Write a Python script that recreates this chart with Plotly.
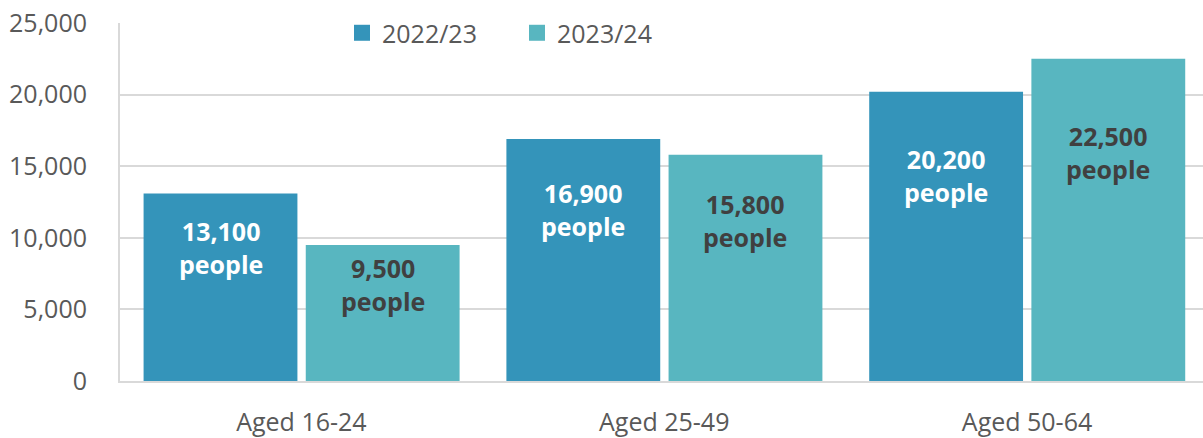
import plotly.graph_objects as go

categories = ["Aged 16-24", "Aged 25-49", "Aged 50-64"]
series_names = ["2022/23", "2023/24"]
values_2223 = [13100, 16900, 20200]
values_2324 = [9500, 15800, 22500]
y_ticks = [0, 5000, 10000, 15000, 20000, 25000]
y_tick_labels = ["0", "5,000", "10,000", "15,000", "20,000", "25,000"]

colors = ["#3494BA", "#58B6C0"]
label_colors = ["#FFFFFF", "#404040"]
BAR_W = 0.424
offsets = [-0.435, 0.012]
LABEL_FRAC = 0.71
FONT = "Open Sans"
GREY = "#595959"
GRID = "#D9D9D9"

fig = go.Figure()
series = [values_2223, values_2324]
idx = list(range(len(categories)))
for s, vals in enumerate(series):
    fig.add_trace(go.Bar(
        x=idx, y=vals, width=BAR_W, offset=offsets[s],
        marker=dict(color=colors[s], line=dict(width=0)),
        showlegend=False, name=series_names[s], hoverinfo="skip",
    ))
    for i, v in enumerate(vals):
        fig.add_annotation(
            x=i + offsets[s] + BAR_W / 2, y=v * LABEL_FRAC, xref="x", yref="y",
            text=f"<b>{v:,}<br>people</b>", showarrow=False,
            font=dict(family=FONT, size=25, color=label_colors[s]),
            align="center", yanchor="middle",
        )
# legend entries
for s in range(2):
    fig.add_trace(go.Scatter(
        x=[None], y=[None], mode="markers", name=series_names[s],
        marker=dict(symbol="square", size=16, color=colors[s]),
    ))

fig.update_layout(
    width=1203, height=438,
    margin=dict(l=120, r=0, t=22.5, b=54.5),
    paper_bgcolor="white", plot_bgcolor="white",
    barmode="overlay",
    font=dict(family=FONT, size=25, color=GREY),
    legend=dict(
        orientation="h", x=0.205, xanchor="left", y=0.972, yanchor="middle",
        bgcolor="white", font=dict(family=FONT, size=25, color=GREY),
        entrywidth=130, entrywidthmode="pixels",
    ),
    xaxis=dict(
        range=[-0.5, 2.485], tickmode="array", tickvals=idx, ticktext=categories,
        showgrid=False, showline=True, linecolor=GRID, linewidth=2,
        ticks="", ticklabelstandoff=18, zeroline=False,
        tickfont=dict(family=FONT, size=25, color=GREY),
    ),
    yaxis=dict(
        range=[0, 25000], tickmode="array", tickvals=y_ticks, ticktext=y_tick_labels,
        showgrid=True, gridcolor=GRID, gridwidth=2,
        showline=True, linecolor=GRID, linewidth=2, zeroline=False,
        ticks="", ticklabelstandoff=26,
        tickfont=dict(family=FONT, size=25, color=GREY),
    ),
)

fig.write_html("out.html")
